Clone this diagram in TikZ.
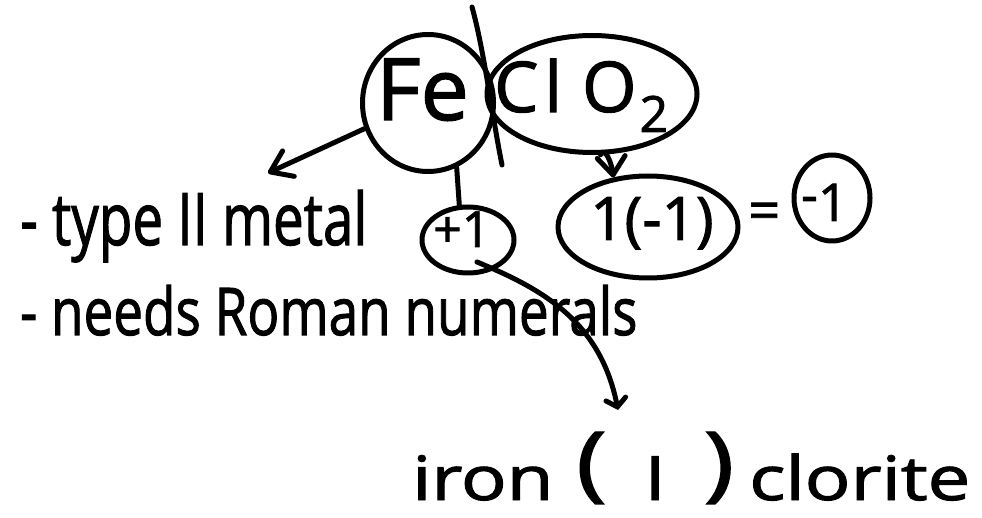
\documentclass[tikz,border=0pt]{standalone}
\usepackage{fontspec}
\setmainfont{Open Sans}
\newfontfamily\hand{Open Sans}[FakeBold=1.6]
\usetikzlibrary{arrows.meta,shapes.geometric,calc}
\begin{document}
\begin{tikzpicture}[x=1pt,y=-1pt,
  ink/.style={line width=5pt, line cap=round, line join=round, draw=black},
  ring/.style={ink, ellipse, inner sep=0pt, minimum width=#1},
  word/.style={inner sep=0pt, anchor=base west, text=black, font=\hand},
  barb/.style={-{Straight Barb[length=#1, width=28pt, line cap=round, line join=round]}}]
  % page
  \fill[white] (0,0) rectangle (982,518);
  \useasboundingbox (0,0) rectangle (982,518);

  % circled formula parts
  \node[ring=131pt, minimum height=137pt] (fe)     at (428,103) {};
  \node[ring=210pt, minimum height=117pt] (clo2)   at (592,94)  {};
  \node[ring=92pt,  minimum height=66pt]  (plus)   at (468,240) {};
  \node[ring=180pt, minimum height=102pt] (charge) at (648,227) {};
  \node[ring=76pt,  minimum height=86pt]  (neg)    at (832,198) {};

  % labels inside the rings
  \node[word] (fetext) at (376,120) {\fontsize{86}{86}\selectfont Fe};
  \node[word] (clotext) at (494,112) {\fontsize{70}{70}\selectfont C\kern6pt l\kern20pt O\kern3pt\raisebox{-20pt}{\fontsize{50}{50}\selectfont 2}};
  \node[word] (plustext) at (433,247) {\fontsize{50}{50}\selectfont +1};
  \node[word] (chargetext) at (590,240) {\fontsize{60}{60}\selectfont 1(-1)};
  \node[word] (eq) at (748,230) {\fontsize{56}{56}\selectfont =};
  \node[word] (negtext) at (801,221) {\fontsize{52}{52}\selectfont \raisebox{8pt}{-}1};

  % notes
  \node[word] (type) at (20,245) {\resizebox{347pt}{55pt}{- type II metal}};
  \node[word] (roman) at (20,335) {\resizebox{617pt}{50pt}{- needs Roman numerals}};
  \node[word] (name) at (412,500) {\resizebox{558pt}{68pt}{iron\kern0.3em\raisebox{0.15em}{\scalebox{1.35}{(}}\kern0.5em I\kern0.5em\raisebox{0.15em}{\scalebox{1.35}{)}}\kern0.2em clorite}};

  % free ends of the connectors
  \coordinate (typetip) at (268,173);
  \coordinate (nametip) at (618,410);
  \coordinate (splittop) at (472,7);
  \coordinate (splitbot) at (502,165);

  % cation / anion split
  \draw[ink] (splittop) .. controls (484,50) and (492,115) .. (splitbot);

  % connectors
  \draw[ink, barb=20pt] (fe.202) -- (typetip);
  \draw[ink, barb=18pt] (clo2.278) .. controls (605,145) and (612,165) .. (charge.125);
  \draw[ink] (fe.294) -- (plus.104);
  \draw[ink, -{Straight Barb[length=8pt, width=20pt, line cap=round]}]
    ($(plus.center)+(9,22)$) .. controls (540,288) and (600,320) .. (nametip);
\end{tikzpicture}
\end{document}
